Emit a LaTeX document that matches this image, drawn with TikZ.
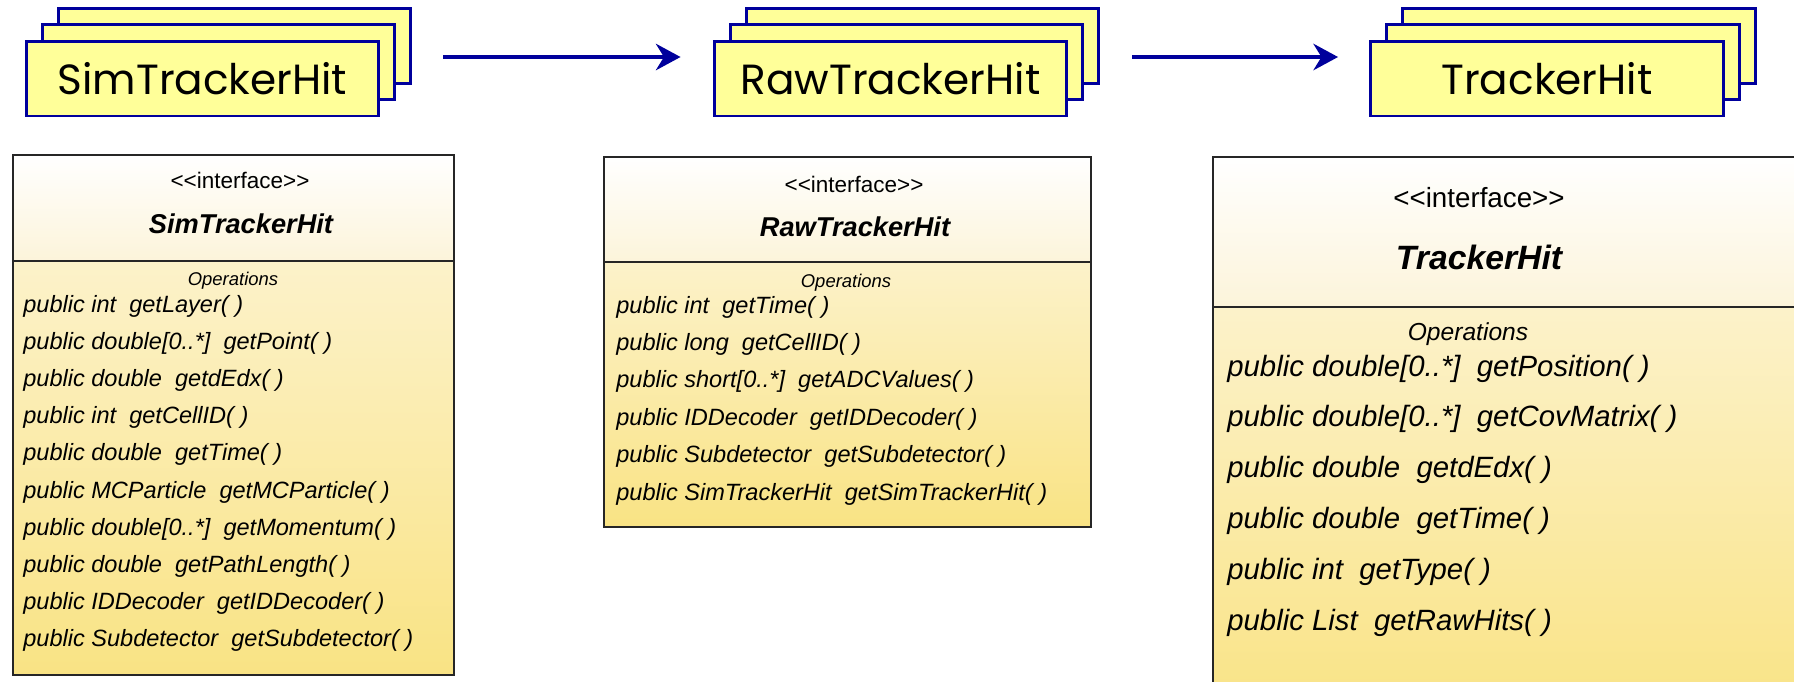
\documentclass[tikz,border=0pt]{standalone}
\usepackage{fontspec}
\usepackage{tikz}
\usetikzlibrary{arrows.meta}
\usetikzlibrary{positioning}
\newfontfamily\umlfont{Liberation Sans}
\newfontfamily\hitfont{Poppins}
\definecolor{hitfill}{HTML}{FFFF99}
\definecolor{hitline}{HTML}{00009C}
\definecolor{headtop}{HTML}{FFFFFF}
\definecolor{headbot}{HTML}{FCF4DA}
\definecolor{bodytop}{HTML}{FCF2CA}
\definecolor{bodybot}{HTML}{F9E384}
\definecolor{umlline}{HTML}{262626}
\tikzset{
  hitbox/.style={draw=hitline, fill=hitfill, line width=1.7pt, minimum width=7.06cm,
    minimum height=1.5cm, inner sep=0pt, font=\hitfont\fontsize{24}{28}\selectfont},
  flow/.style={-{Stealth[length=14pt,width=15pt]}, draw=hitline, line width=2.3pt},
  umlbox/.style={draw=umlline, line width=1.1pt},
  stereo/.style={anchor=base, inner sep=0pt, font=\umlfont\fontsize{12.8}{15}\selectfont},
  cname/.style={anchor=base, inner sep=0pt, font=\umlfont\bfseries\itshape\fontsize{15.5}{18}\selectfont},
  opshead/.style={anchor=base, inner sep=0pt, font=\umlfont\itshape\fontsize{10.5}{12}\selectfont},
  oper/.style={anchor=base west, inner sep=0pt, font=\umlfont\itshape\fontsize{13.4}{16}\selectfont}
}

\begin{document}
\begin{tikzpicture}[x=0.02cm, y=-0.02cm]
\useasboundingbox (0,0) rectangle (1794,681);

% stacked hit boxes
\foreach \nm/\cx/\txt in {sim/202.5/SimTrackerHit, raw/890.5/RawTrackerHit, trk/1547/TrackerHit} {
  \node[hitbox] (\nm C) at (\cx+32,46) {};
  \node[hitbox] (\nm B) at (\cx+16,62) {};
  \node[hitbox] (\nm A) at (\cx,78.5) {\txt};
}
\draw[flow, shorten <=0.94cm, shorten >=0.96cm] ([yshift=0.1cm]simB.east) -- ([yshift=0.1cm]rawB.west);
\draw[flow, shorten <=0.96cm, shorten >=0.94cm] ([yshift=0.1cm]rawB.east) -- ([yshift=0.1cm]trkB.west);

% SimTrackerHit interface
\shade[top color=headtop, bottom color=headbot] (13,155) rectangle (454,261);
\shade[top color=bodytop, bottom color=bodybot] (13,261) rectangle (454,675);
\draw[umlbox] (13,155) rectangle (454,675);
\draw[umlbox] (13,261) -- (454,261);
\node[stereo] (simst) at (240,188) {<{}<interface>{}>};
\node[cname] (simnm) at (241,233) {SimTrackerHit};
\node[opshead] (simops) at (233,285) {Operations};
\foreach \t [count=\i from 0] in {public int~ getLayer( ), public double[0..*]~ getPoint( ),
  public double~ getdEdx( ), public int~ getCellID( ), public double~ getTime( ),
  public MCParticle~ getMCParticle( ), public double[0..*]~ getMomentum( ),
  public double~ getPathLength( ), public IDDecoder~ getIDDecoder( ),
  public Subdetector~ getSubdetector( )}
  \node[oper] (simop\i) at (23,{312+37.2*\i}) {\t};

% RawTrackerHit interface
\shade[top color=headtop, bottom color=headbot] (604,157) rectangle (1091,262);
\shade[top color=bodytop, bottom color=bodybot] (604,262) rectangle (1091,527);
\draw[umlbox] (604,157) rectangle (1091,527);
\draw[umlbox] (604,262) -- (1091,262);
\node[stereo] (rawst) at (854,192) {<{}<interface>{}>};
\node[cname] (rawnm) at (855,236) {RawTrackerHit};
\node[opshead] (rawops) at (846,287) {Operations};
\foreach \t [count=\i from 0] in {public int~ getTime( ), public long~ getCellID( ),
  public short[0..*]~ getADCValues( ), public IDDecoder~ getIDDecoder( ),
  public Subdetector~ getSubdetector( ), public SimTrackerHit~ getSimTrackerHit( )}
  \node[oper] (rawop\i) at (616,{313+37.4*\i}) {\t};

% TrackerHit interface, cut by the page edge
\begin{scope}
\clip (0,0) rectangle (1794,681);
\shade[top color=headtop, bottom color=headbot] (1213,157) rectangle (1830,307);
\shade[top color=bodytop, bottom color=bodybot] (1213,307) rectangle (1830,720);
\draw[umlbox] (1213,157) rectangle (1830,720);
\draw[umlbox] (1213,307) -- (1830,307);
\end{scope}
\node[stereo, font=\umlfont\fontsize{15.8}{18}\selectfont] (trkst) at (1479,207) {<{}<interface>{}>};
\node[cname, font=\umlfont\bfseries\itshape\fontsize{19.2}{22}\selectfont] (trknm) at (1479,269) {TrackerHit};
\node[opshead, font=\umlfont\itshape\fontsize{14}{16}\selectfont] (trkops) at (1468,340) {Operations};
\foreach \t [count=\i from 0] in {public double[0..*]~ getPosition( ),
  public double[0..*]~ getCovMatrix( ), public double~ getdEdx( ),
  public double~ getTime( ), public int~ getType( ), public List~ getRawHits( )}
  \node[oper, font=\umlfont\itshape\fontsize{16.7}{19}\selectfont] (trkop\i) at (1227,{376+50.8*\i}) {\t};
\end{tikzpicture}
\end{document}
